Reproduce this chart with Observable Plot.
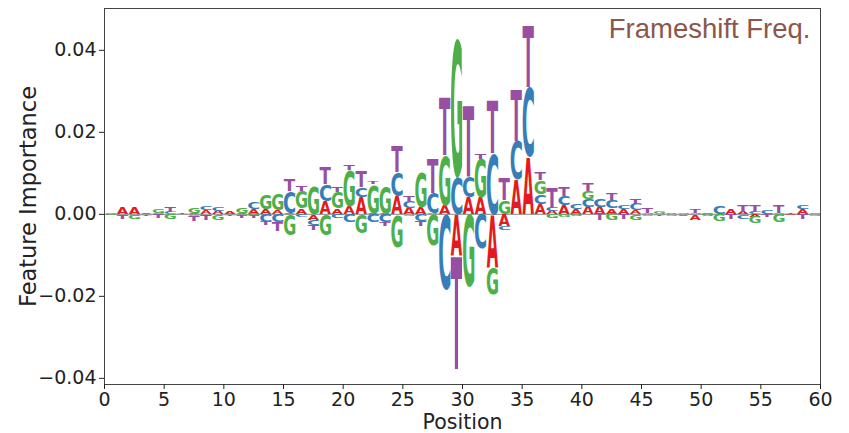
<!DOCTYPE html>
<html><head><meta charset="utf-8">
<script src="https://cdn.jsdelivr.net/npm/d3@7"></script>
<script src="https://cdn.jsdelivr.net/npm/@observablehq/plot@0.6"></script>
<style>body{margin:0;background:#fff}</style>
</head><body><div id="chart"></div>
<script>
// Feature importance per position and nucleotide (values in units of 1e-3)
const UNIT = 1e-3;
const positions = d3.range(60);
const A = [0,1.6,1.6,0.3,0,0,0,0.3,1.0,0.8, 0.5,0.3,1.4,1.2,1.0,0.3,1.4,-1.3,3.3,1.4, 1.8,4.2,0.3,0.3,4.5,1.6,1.7,0.2,2.2,-10.0, 4.1,4.2,-13.0,-3.0,8.5,13.9,2.6,0.8,2.2,1.4, 1.8,1.8,1.4,1.4,1.0,0,0,0.2,-0.3,-1.3, 0,0,1.4,0.5,-0.6,0,0,-0.2,1.4,0];
const C = [0.3,-0.4,-0.3,0,0.3,0.6,0,-0.3,1.1,0.8, 0,-0.3,1.5,-1.8,-1.8,5.3,-0.6,-1.2,4.0,-0.8, -2.0,2.4,-2.0,-2.0,5.8,1.6,-1.6,5.0,-18.5,9.1, 4.9,-8.4,14.9,-0.8,9.5,17.1,2.4,0.8,2.2,1.2, 1.8,2.0,2.0,0.8,1.6,-0.3,0,0,0,0, 0.3,2.1,0,-1.1,0.6,1.0,0.4,0,0.8,0.3];
const G = [-0.2,0,-0.8,0,1.0,-1.2,0,1.3,0,-1.3, 0,1.3,-0.5,3.5,3.8,-5.0,4.4,6.8,-5.0,4.0, 8.9,-4.5,7.0,6.5,-8.0,-0.3,8.5,-7.6,12.2,34.1, -17.8,9.4,-6.5,3.4,0,0,3.3,-0.8,-0.6,-0.5, 2.1,0,-1.5,0,-1.3,0.4,0.7,-0.3,0.3,0.4, -0.5,-1.7,0,0,-1.5,0,-1.9,0,0,-0.3];
const T = [0,-0.8,0,-0.3,-0.9,1.2,0.3,-1.3,-1.4,0, -0.3,-0.6,-0.5,-0.8,-2.3,2.8,1.2,-1.2,4.1,1.3, 1.2,3.7,0.5,-0.8,6.4,1.2,-1.2,8.2,14.2,-27.6, 17.3,1.2,12.7,5.5,12.4,15.1,2.0,4.7,2.3,0, 1.8,-1.5,1.6,-1.2,1.2,1.4,-0.4,0,0,0.8, 0,0,-1.1,1.7,1.6,-0.6,1.8,0.3,-1.1,0];
const letters = ["A", "C", "G", "T"];
const letterColors = ["#e41a1c", "#377eb8", "#4daf4a", "#984ea3"];
const xTicks = [0, 5, 10, 15, 20, 25, 30, 35, 40, 45, 50, 55, 60];
const yTicks = [-0.04, -0.02, 0, 0.02, 0.04];

const series = {A, C, G, T};
const rows = [];
for (const k of positions) {
  let up = 0, down = 0;
  for (const L of letters) {
    const v = series[L][k] * UNIT;
    if (!v) continue;
    if (v > 0) { rows.push({pos: k, letter: L, y1: up, y2: up + v}); up += v; }
    else { rows.push({pos: k, letter: L, y1: down, y2: down + v}); down += v; }
  }
}

const FONT = "DejaVu Sans";
const plot = Plot.plot({
  width: 849, height: 433,
  marginLeft: 104, marginRight: 29, marginTop: 8, marginBottom: 49,
  x: {domain: [0, 60]},
  y: {domain: [-0.0415, 0.0502]},
  color: {domain: letters, range: letterColors},
  style: {fontFamily: FONT, background: "#fff", color: "#222"},
  marks: [
    Plot.ruleY([0], {stroke: "#8a8a8a", strokeWidth: 1}),
    Plot.text(rows, {x: d => d.pos + 0.5, y: "y1", text: "letter", fill: "letter",
      fontSize: 100, fontWeight: "bold", fontFamily: FONT, textAnchor: "start", lineAnchor: "bottom"}),
    Plot.frame({stroke: "#444", strokeWidth: 1}),
    Plot.axisX({ticks: xTicks, tickFormat: d3.format("d"), tickSize: 5, tickPadding: 3, fontSize: 19, label: null}),
    Plot.axisY({ticks: yTicks, tickFormat: d3.format(".2f"), tickSize: 5, tickPadding: 3, fontSize: 19, label: null}),
    Plot.text(["Position"], {frameAnchor: "bottom", text: d => d, dy: 44, fontSize: 20.5, lineAnchor: "bottom", fill: "#222"}),
    Plot.text(["Feature Importance"], {frameAnchor: "left", text: d => d, rotate: -90, dx: -76, fontSize: 22.5, textAnchor: "middle", lineAnchor: "middle", fill: "#222"}),
    Plot.text(["Frameshift Freq."], {frameAnchor: "top-right", text: d => d, dx: -10, dy: 10, fontSize: 27.5, fontFamily: "Liberation Sans", fill: "#8c564b", textAnchor: "end", lineAnchor: "top"})
  ]
});
document.getElementById("chart").append(plot);

// stretch each letter glyph to fill its stacked box, using the plot's scales
const xs = plot.scale("x"), ys = plot.scale("y");
const ctx = document.createElement("canvas").getContext("2d");
ctx.font = `bold 100px "${FONT}"`;
const metrics = {};
for (const L of letters) {
  const m = ctx.measureText(L);
  metrics[L] = {l: m.actualBoundingBoxLeft, r: m.actualBoundingBoxRight, a: m.actualBoundingBoxAscent, d: m.actualBoundingBoxDescent};
}
// the logo is the first text mark group with one text per row
const groups = Array.from(plot.querySelectorAll("g")).filter(el => el.querySelectorAll(":scope > text").length === rows.length);
const g = groups[0];
g.querySelectorAll(":scope > text").forEach((t, i) => {
  const d = rows[typeof t.__data__ === "number" ? t.__data__ : i];
  const m = metrics[d.letter];
  const x0 = xs.apply(d.pos + 0.5 - 0.475), x1 = xs.apply(d.pos + 0.5 + 0.475);
  const yTop = ys.apply(Math.max(d.y1, d.y2)), yBot = ys.apply(Math.min(d.y1, d.y2));
  const sx = (x1 - x0) / (m.l + m.r), sy = (yBot - yTop) / (m.a + m.d);
  t.removeAttribute("x"); t.removeAttribute("y"); t.removeAttribute("dy");
  t.setAttribute("text-anchor", "start");
  t.setAttribute("transform", `translate(${x0},${yTop}) scale(${sx},${sy}) translate(${m.l},${m.a})`);
});
</script>
</body></html>
